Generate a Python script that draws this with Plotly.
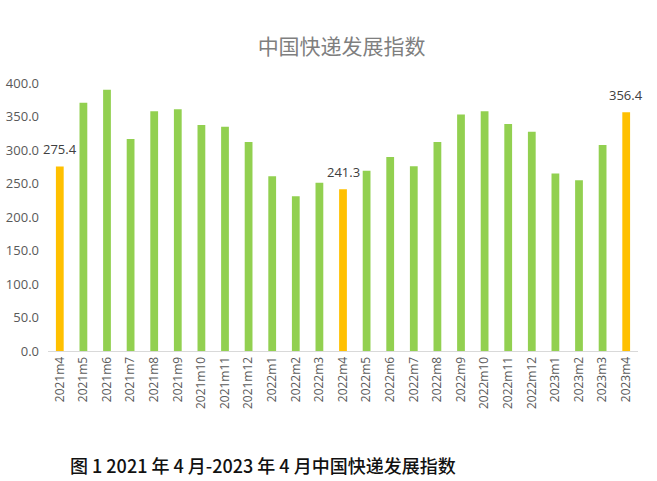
import plotly.graph_objects as go

categories = ["2021m4", "2021m5", "2021m6", "2021m7", "2021m8", "2021m9", "2021m10",
              "2021m11", "2021m12", "2022m1", "2022m2", "2022m3", "2022m4", "2022m5",
              "2022m6", "2022m7", "2022m8", "2022m9", "2022m10", "2022m11", "2022m12",
              "2023m1", "2023m2", "2023m3", "2023m4"]
values = [275.4, 370.6, 390.0, 316.4, 358.0, 360.7, 337.3,
          334.8, 312.0, 261.0, 230.8, 251.0, 241.3, 269.0,
          289.5, 275.6, 312.0, 353.0, 358.0, 338.8, 327.3,
          265.0, 255.0, 307.5, 356.4]
highlight = ["2021m4", "2022m4", "2023m4"]
y_ticks = [0, 50, 100, 150, 200, 250, 300, 350, 400]

GREEN = "#92D050"
ORANGE = "#FFC000"
colors = [ORANGE if c in highlight else GREEN for c in categories]

fig = go.Figure()
fig.add_trace(go.Bar(
    x=categories, y=values, marker=dict(color=colors, line=dict(width=0)),
    width=0.33, hoverinfo="x+y",
))

for c, v in zip(categories, values):
    if c in highlight:
        fig.add_annotation(x=c, y=v, text=f"{v:.1f}", showarrow=False,
                           yanchor="bottom", yshift=6,
                           font=dict(family="Open Sans", size=13, color="#404040"))

fig.add_annotation(xref="paper", yref="paper", x=(68 - 48) / 590, y=-0.425,
                   xanchor="left", yanchor="middle", showarrow=False,
                   text="图 1 2021 年 4 月-2023 年 4 月中国快递发展指数",
                   font=dict(family="Noto Sans CJK SC", size=18,
                             color="#111111", weight=500))

fig.update_layout(
    width=657, height=481,
    margin=dict(l=48, r=19, t=83, b=130, pad=0),
    paper_bgcolor="white", plot_bgcolor="white",
    showlegend=False,
    title=dict(text="中国快递发展指数", x=0.52, xanchor="center", y=1 - 47 / 481, yanchor="middle",
               font=dict(family="Noto Sans CJK SC", size=21, color="#7f7f7f")),
    xaxis=dict(type="category", tickangle=-90, showgrid=False, showline=True,
               linecolor="#D9D9D9", linewidth=1, ticks="", automargin=False,
               tickfont=dict(family="Open Sans", size=12, color="#595959"),
               range=[-0.5, len(categories) - 0.5]),
    yaxis=dict(range=[0, 400], tickvals=y_ticks, ticktext=[f"{t:.1f}" for t in y_ticks],
               showgrid=False, zeroline=False, showline=False, ticks="",
               ticklabelstandoff=8, automargin=False,
               tickfont=dict(family="Open Sans", size=13, color="#595959")),
)

fig.write_html("out.html")
